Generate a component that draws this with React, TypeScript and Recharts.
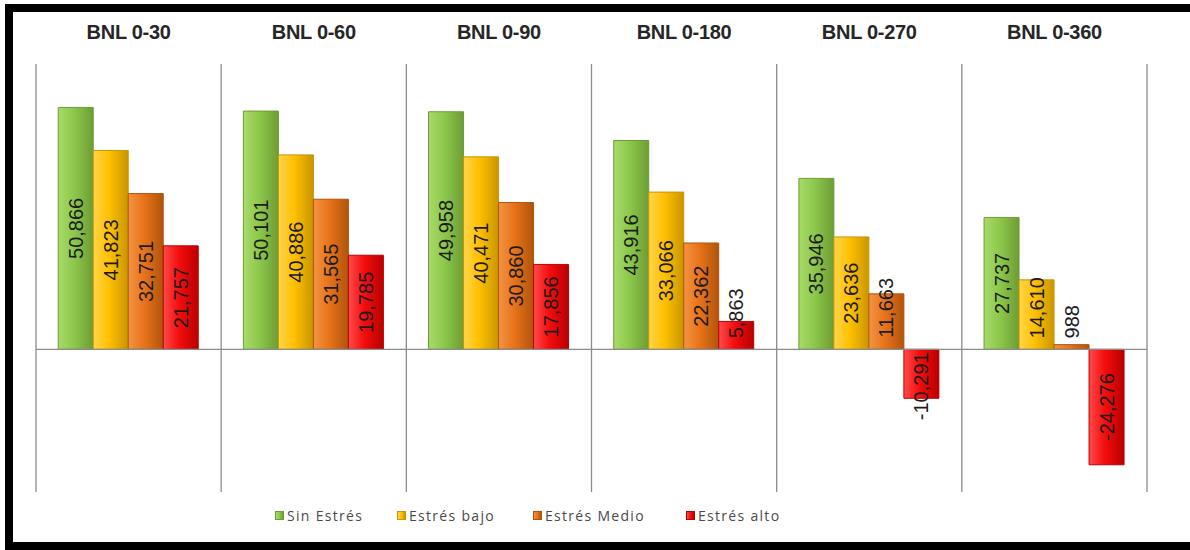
import { Bar, BarChart, CartesianGrid, LabelList, Legend, ReferenceLine, XAxis, YAxis } from "recharts"

// categories and values
const groups = ["BNL 0-30", "BNL 0-60", "BNL 0-90", "BNL 0-180", "BNL 0-270", "BNL 0-360"]
const sinEstres = [50866, 50101, 49958, 43916, 35946, 27737]
const estresBajo = [41823, 40886, 40471, 33066, 23636, 14610]
const estresMedio = [32751, 31565, 30860, 22362, 11663, 988]
const estresAlto = [21757, 19785, 17856, 5863, -10291, -24276]

const series = [
  { key: "sin", name: "Sin Estrés", light: "#A9DA6A", mid: "#8CC84B", dark: "#6E9C35" },
  { key: "bajo", name: "Estrés bajo", light: "#FFD54A", mid: "#FFC000", dark: "#C99500" },
  { key: "medio", name: "Estrés Medio", light: "#F39444", mid: "#E8731A", dark: "#B0540C" },
  { key: "alto", name: "Estrés alto", light: "#FF4A4A", mid: "#F40D0D", dark: "#B80000" },
]
const legendWidths = [122, 136, 153, 110]

const data = groups.map((g, i) => ({
  group: g,
  sin: sinEstres[i],
  bajo: estresBajo[i],
  medio: estresMedio[i],
  alto: estresAlto[i],
}))

const fmt = (v: number) => v.toLocaleString("en-US")

const textLen = (s: string) => {
  let len = 0
  for (const c of s) len += c === "," ? 5.6 : c === "-" ? 6.7 : 11.1
  return len
}

const BarLabel = (props: any) => {
  const { x, y, width, height, value } = props
  const top = Math.min(y, y + height)
  const bottom = Math.max(y, y + height)
  const s = fmt(value)
  const half = textLen(s) / 2
  const cx = x + width / 2
  let cy = (top + bottom) / 2
  if (value >= 0) {
    if (cy + half > bottom - 11) cy = bottom - 11 - half
  } else {
    if (cy - half < top + 3) cy = top + 3 + half
  }
  return (
    <text
      x={cx}
      y={cy}
      transform={`rotate(-90 ${cx} ${cy})`}
      textAnchor="middle"
      dominantBaseline="central"
      fontFamily="'Liberation Sans', Arial, sans-serif"
      fontSize={20}
      fill="#1c1c1c"
    >
      {s}
    </text>
  )
}

const TitleTick = ({ x, y, payload }: any) => (
  <text
    x={x}
    y={y}
    dy={-23}
    textAnchor="middle"
    fontFamily="'Liberation Sans', Arial, sans-serif"
    fontWeight="bold"
    fontSize={20}
    letterSpacing={-0.3}
    fill="#262626"
  >
    {payload.value}
  </text>
)

const renderLegend = () => (
  <div style={{ display: "flex", alignItems: "center", fontFamily: "'Open Sans', sans-serif", fontSize: 14, letterSpacing: 1.3, color: "#4a4a4a", whiteSpace: "nowrap" }}>
    {series.map((s, i) => (
      <div key={s.key} style={{ display: "flex", alignItems: "center", width: legendWidths[i] }}>
        <span
          style={{
            display: "inline-block",
            width: 7,
            height: 7,
            marginRight: 3,
            background: `linear-gradient(to right, ${s.light}, ${s.mid}, ${s.dark})`,
            border: `1px solid ${s.dark}`,
          }}
        />
        <span>{s.name}</span>
      </div>
    ))}
  </div>
)

const gridLines = ({ offset }: any) =>
  groups.map((_, i) => offset.left + (i * offset.width) / groups.length).concat(offset.left + offset.width)

export default function App() {
  return (
    <div>
      <div
        style={{
          position: "absolute",
          left: 5,
          top: 4,
          width: 1210,
          height: 546,
          border: "8px solid #000",
          boxSizing: "border-box",
          background: "#fff",
        }}
      />
      <div style={{ position: "absolute", left: 0, top: 0 }}>
        <BarChart
          width={1190}
          height={550}
          data={data}
          margin={{ top: 34, right: 43, left: 36, bottom: 58 }}
          barCategoryGap="12%"
          barGap={0}
        >
          <defs>
            {series.map((s) => (
              <linearGradient key={s.key} id={`grad-${s.key}`} x1="0" y1="0" x2="1" y2="0">
                <stop offset="0%" stopColor={s.light} />
                <stop offset="45%" stopColor={s.mid} />
                <stop offset="100%" stopColor={s.dark} />
              </linearGradient>
            ))}
          </defs>
          <CartesianGrid horizontal={false} stroke="#8c8c8c" strokeWidth={1.3} verticalCoordinatesGenerator={gridLines} />
          <XAxis
            dataKey="group"
            orientation="top"
            height={30}
            axisLine={false}
            tickLine={false}
            tickSize={0}
            tick={<TitleTick />}
            interval={0}
          />
          <YAxis hide domain={[-30000, 60000]} />
          <ReferenceLine y={0} stroke="#8c8c8c" strokeWidth={1.3} />
          {series.map((s) => (
            <Bar
              key={s.key}
              dataKey={s.key}
              name={s.name}
              fill={`url(#grad-${s.key})`}
              stroke={s.dark}
              strokeWidth={1}
              isAnimationActive={false}
            >
              <LabelList dataKey={s.key} content={<BarLabel />} />
            </Bar>
          ))}
          <Legend content={renderLegend} wrapperStyle={{ left: 275, top: 506, width: "auto", height: 0 }} />
        </BarChart>
      </div>
    </div>
  )
}
